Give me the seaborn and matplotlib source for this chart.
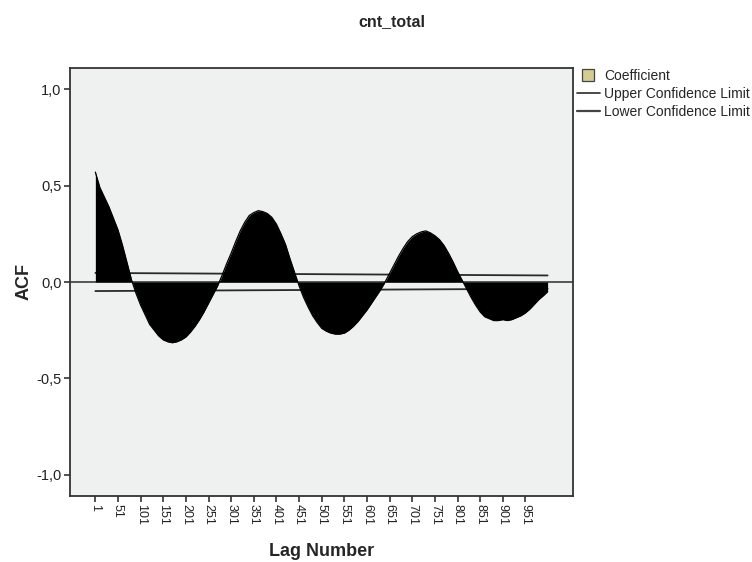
import matplotlib
matplotlib.use("Agg")
import matplotlib.pyplot as plt
import numpy as np
import pandas as pd
import seaborn as sns
from matplotlib.lines import Line2D

# Autocorrelation coefficients of cnt_total, sampled every 10 lags
lags = list(range(1, 1000, 10)) + [1000]
acf = [
    0.57, 0.49, 0.44, 0.39, 0.33, 0.27, 0.19, 0.10, 0.01, -0.06,
    -0.12, -0.17, -0.22, -0.25, -0.28, -0.30, -0.31, -0.315, -0.31, -0.30,
    -0.285, -0.26, -0.23, -0.195, -0.155, -0.11, -0.065, -0.02, 0.035, 0.095,
    0.15, 0.21, 0.265, 0.31, 0.345, 0.36, 0.37, 0.365, 0.355, 0.335,
    0.30, 0.25, 0.195, 0.12, 0.05, -0.02, -0.08, -0.13, -0.175, -0.21,
    -0.24, -0.255, -0.265, -0.27, -0.27, -0.265, -0.25, -0.23, -0.205, -0.175,
    -0.145, -0.11, -0.075, -0.04, 0.0, 0.045, 0.09, 0.135, 0.175, 0.21,
    0.235, 0.25, 0.26, 0.265, 0.255, 0.24, 0.22, 0.19, 0.15, 0.105,
    0.055, 0.01, -0.035, -0.08, -0.12, -0.155, -0.18, -0.19, -0.20, -0.20,
    -0.195, -0.20, -0.195, -0.185, -0.175, -0.16, -0.14, -0.115, -0.09, -0.07,
    -0.05,
]

# Confidence limits (end points)
limit_lags = [1, 1000]
upper_limit = [0.047, 0.034]
lower_limit = [-0.047, -0.035]

x_ticks = list(range(1, 1000, 50))
x_tick_labels = [str(v) for v in x_ticks]
y_ticks = [-1.0, -0.5, 0.0, 0.5, 1.0]
y_tick_labels = ["-1,0", "-0,5", "0,0", "0,5", "1,0"]

df = pd.DataFrame({"lag": lags, "acf": acf})
lim = pd.DataFrame({"lag": limit_lags, "upper": upper_limit, "lower": lower_limit})

sns.set_style("ticks")
plt.rcParams["font.family"] = ["Liberation Sans", "DejaVu Sans"]

fig = plt.figure(figsize=(7.52, 5.62), dpi=100)
ax = fig.add_axes([70 / 752, 1 - 496 / 562, 502.5 / 752, 428 / 562])
ax.set_facecolor("#eff0f0")

# reference line and confidence limits sit underneath the coefficient area
ax.axhline(0, color="#4a4a4a", linewidth=1.3, zorder=1)
sns.lineplot(data=lim, x="lag", y="upper", ax=ax, color="#2a2a2a", linewidth=1.3, zorder=1)
sns.lineplot(data=lim, x="lag", y="lower", ax=ax, color="#2a2a2a", linewidth=1.3, zorder=1)
ax.fill_between(df["lag"], df["acf"], 0, color="black", linewidth=0, zorder=2)
sns.lineplot(data=df, x="lag", y="acf", ax=ax, color="black", linewidth=0.9, zorder=2)

ax.set_xlim(-55, 1055)
ax.set_ylim(-1.11, 1.11)
ax.set_xticks(x_ticks)
ax.set_xticklabels(x_tick_labels, rotation=270, fontsize=9, color="#222222")
ax.set_yticks(y_ticks)
ax.set_yticklabels(y_tick_labels, fontsize=10.5, color="#222222")
ax.tick_params(axis="both", direction="out", length=4.5, width=1.2, color="#333333", pad=1.5)

for s in ax.spines.values():
    s.set_color("#333333")
    s.set_linewidth(1.3)

ax.set_xlabel("Lag Number", fontsize=13, fontweight="bold", labelpad=13)
ax.set_ylabel("ACF", fontsize=13, fontweight="bold", labelpad=3)
fig.text(392 / 752, 1 - 22 / 562, "cnt_total", ha="center", va="center",
         fontsize=11.5, fontweight="bold")

handles = [
    Line2D([0], [0], linestyle="none", marker="s", markersize=9,
           markerfacecolor="#d3cd93", markeredgecolor="#444444", markeredgewidth=0.9),
    Line2D([0], [0], color="#2a2a2a", linewidth=1.2),
    Line2D([0], [0], color="#444444", linewidth=1.6),
]
fig.legend(handles, ["Coefficient", "Upper Confidence Limit", "Lower Confidence Limit"],
           loc="upper left", bbox_to_anchor=(577 / 752, 1 - 69 / 562),
           frameon=False, fontsize=10, handlelength=1.65, handletextpad=0.3,
           labelspacing=0.3, borderaxespad=0, borderpad=0)

fig.savefig("out.png", dpi=100, facecolor="white")
